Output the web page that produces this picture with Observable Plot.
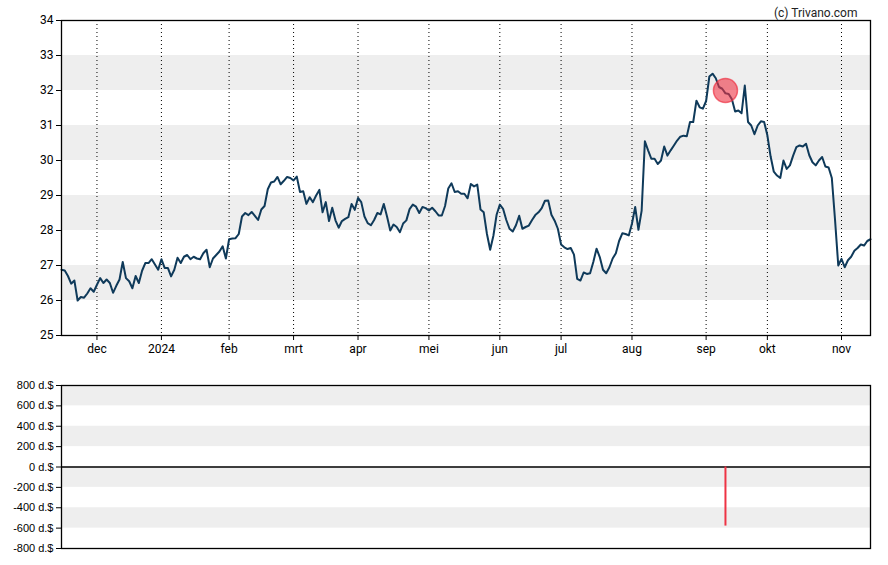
<!DOCTYPE html>
<html><head><meta charset="utf-8">
<script src="https://cdn.jsdelivr.net/npm/d3@7"></script>
<script src="https://cdn.jsdelivr.net/npm/@observablehq/plot@0.6"></script>
<style>body{margin:0;background:#fff;} svg{display:block}</style>
</head><body><div id="chart"></div>
<script>
// Daily closing prices (one per trading day, Nov 2023 – Nov 2024)
const prices = [
  26.88, 26.86, 26.7, 26.48, 26.57, 26.0, 26.1, 26.08, 26.2, 26.35,
  26.25, 26.45, 26.64, 26.5, 26.6, 26.5, 26.22, 26.42, 26.6, 27.1,
  26.64, 26.55, 26.35, 26.7, 26.5, 26.85, 27.07, 27.07, 27.18, 27.03,
  26.88, 27.18, 26.93, 26.93, 26.69, 26.88, 27.22, 27.07, 27.25, 27.3,
  27.18, 27.25, 27.2, 27.18, 27.35, 27.45, 26.95, 27.2, 27.3, 27.4,
  27.55, 27.2, 27.75, 27.77, 27.78, 27.9, 28.4, 28.5, 28.44, 28.53,
  28.42, 28.3, 28.6, 28.7, 29.18, 29.37, 29.4, 29.53, 29.32, 29.42,
  29.53, 29.5, 29.43, 29.54, 29.1, 29.12, 28.76, 28.95, 28.81, 29.0,
  29.16, 28.52, 28.81, 28.27, 28.65, 28.29, 28.08, 28.27, 28.33, 28.38,
  28.76, 28.59, 28.93, 28.81, 28.4, 28.21, 28.15, 28.3, 28.5, 28.46,
  28.76, 28.4, 28.0, 28.17, 28.1, 27.95, 28.2, 28.29, 28.61, 28.74,
  28.68, 28.5, 28.67, 28.64, 28.57, 28.65, 28.55, 28.43, 28.43, 28.7,
  29.2, 29.35, 29.1, 29.12, 29.05, 29.05, 28.92, 29.33, 29.26, 29.31,
  28.6, 28.52, 27.9, 27.45, 27.85, 28.45, 28.74, 28.62, 28.3, 28.05,
  27.97, 28.15, 28.42, 28.05, 28.1, 28.14, 28.3, 28.44, 28.52, 28.64,
  28.85, 28.86, 28.45, 28.28, 28.05, 27.6, 27.52, 27.47, 27.5, 27.31,
  26.62, 26.57, 26.8, 26.76, 26.78, 27.1, 27.48, 27.24, 26.88, 26.78,
  26.95, 27.2, 27.35, 27.7, 27.92, 27.9, 27.86, 28.2, 28.67, 28.02,
  28.57, 30.55, 30.29, 30.05, 30.05, 29.9, 30.0, 30.4, 30.14, 30.29,
  30.43, 30.57, 30.68, 30.71, 30.69, 31.1, 31.1, 31.71, 31.52, 31.48,
  31.7, 32.4, 32.48, 32.35, 32.1, 32.05, 31.92, 31.9, 31.75, 31.4,
  31.43, 31.35, 32.14, 31.1, 31.0, 30.75, 31.0, 31.12, 31.1, 30.72,
  30.12, 29.68, 29.57, 29.5, 30.0, 29.76, 29.86, 30.14, 30.38, 30.43,
  30.4, 30.48, 30.15, 29.95, 29.86, 30.0, 30.1, 29.83, 29.8, 29.5,
  28.3, 27.0, 27.19, 26.95, 27.15, 27.25, 27.42, 27.5, 27.6, 27.57,
  27.7, 27.75
];
// First trading day of each month (index into prices) and its label
const monthTickIndex = [11, 31, 52, 72, 92, 114, 136, 155, 177, 200, 219, 242];
const monthLabels = ["dec", "2024", "feb", "mrt", "apr", "mei", "jun", "jul", "aug", "sep", "okt", "nov"];
const priceTicks = [25, 26, 27, 28, 29, 30, 31, 32, 33, 34];
const priceBands = [[26, 27], [28, 29], [30, 31], [32, 33]];
// Insider transaction(s)
const tradeIndex = [206];
const tradePrice = [32.0];
const tradeAmount = [-580];
const amountTicks = [-800, -600, -400, -200, 0, 200, 400, 600, 800];
const amountBands = [[600, 800], [200, 400], [-200, 0], [-600, -400]];

const lastIndex = prices.length - 1;
const series = prices.map((v, i) => ({i, v}));
const trades = tradeIndex.map((t, k) => ({i: t, p: tradePrice[k], a: tradeAmount[k]}));

const topPlot = Plot.plot({
  width: 888, height: 365,
  marginLeft: 61, marginRight: 18, marginTop: 20, marginBottom: 30,
  style: {fontFamily: "Roboto, sans-serif", fontSize: "12px", color: "#000", background: "#fff", overflow: "visible"},
  x: {domain: [0, lastIndex], label: null},
  y: {domain: [25, 34], label: null},
  marks: [
    Plot.rect(priceBands, {y1: d => d[0], y2: d => d[1], fill: "#eeeeee"}),
    Plot.ruleX(monthTickIndex, {stroke: "#000", strokeWidth: 1, strokeDasharray: "1,3"}),
    Plot.line(series, {x: "i", y: "v", stroke: "#0f3a5a", strokeWidth: 2}),
    Plot.dot(trades, {x: "i", y: "p", r: 12, fill: "#ee3344", fillOpacity: 0.6, stroke: "#ee3344", strokeOpacity: 0.7}),
    Plot.frame({stroke: "#000", strokeWidth: 1.3}),
    Plot.axisY(priceTicks, {tickSize: 5, tickPadding: 3, fontSize: 12}),
    Plot.axisX(monthTickIndex, {tickSize: 5, tickPadding: 4, fontSize: 12, tickFormat: d => monthLabels[monthTickIndex.indexOf(d)]}),
    Plot.text(["(c) Trivano.com"], {frameAnchor: "top-right", textAnchor: "end", dx: -13, dy: -12, fontSize: 12, fill: "#222"})
  ]
});

const bottomPlot = Plot.plot({
  width: 888, height: 200,
  marginLeft: 61, marginRight: 18, marginTop: 20, marginBottom: 17,
  style: {fontFamily: "'Liberation Sans', Arial, sans-serif", fontSize: "11px", color: "#000", background: "#fff", overflow: "visible"},
  x: {domain: [0, lastIndex], axis: null},
  y: {domain: [-800, 800], label: null},
  marks: [
    Plot.rect(amountBands, {y1: d => d[0], y2: d => d[1], fill: "#eeeeee"}),
    Plot.ruleY([0], {stroke: "#000", strokeWidth: 1.3}),
    Plot.ruleX(trades, {x: "i", y1: 0, y2: "a", stroke: "#ee3344", strokeWidth: 2}),
    Plot.frame({stroke: "#000", strokeWidth: 1.3}),
    Plot.axisY(amountTicks, {tickSize: 5, tickPadding: 3, fontSize: 11, tickFormat: d => d + " d.$"})
  ]
});

const root = document.getElementById("chart");
root.append(topPlot, bottomPlot);
</script>
</body></html>
